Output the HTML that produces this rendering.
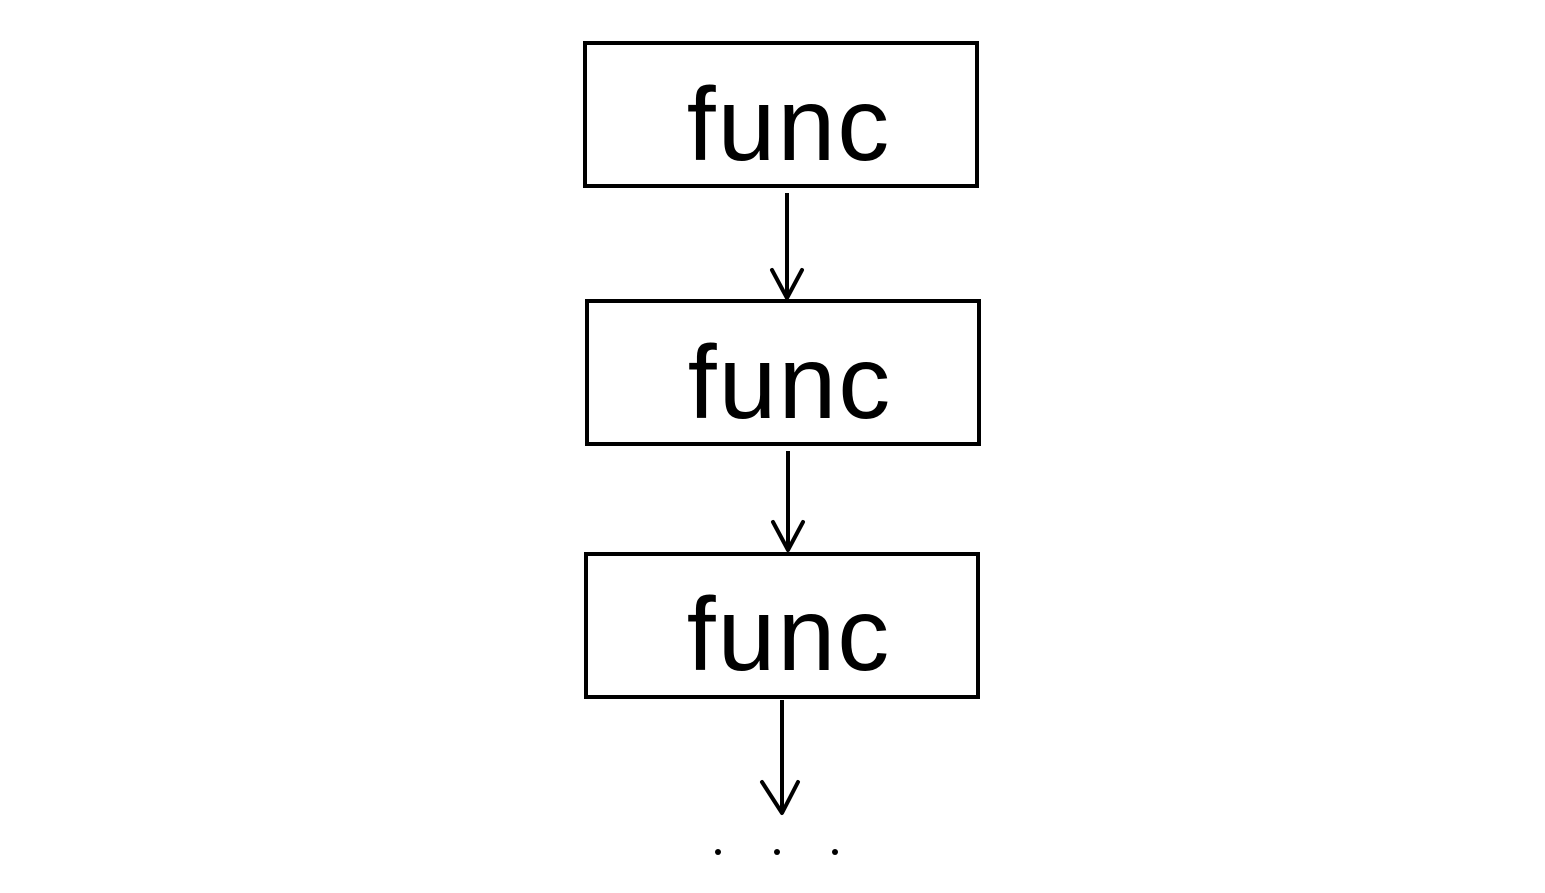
<!DOCTYPE html>
<html>
<head>
<meta charset="utf-8">
<style>
html,body{margin:0;padding:0;background:#fff;}
svg{display:block;}
text{font-family:"Liberation Sans",sans-serif;}
</style>
</head>
<body>
<svg width="1545" height="893" viewBox="0 0 1545 893">
  <g>
    <rect x="585" y="43" width="392" height="143" fill="none" stroke="#000" stroke-width="4"/>
    <text x="789" y="160" font-size="104" text-anchor="middle" letter-spacing="2">func</text>
  </g>
  <g>
    <line x1="787" y1="193" x2="787" y2="298" stroke="#000" stroke-width="4"/>
    <polyline points="772,270 787,298 802,270" fill="none" stroke="#000" stroke-width="4" stroke-linejoin="round" stroke-linecap="round"/>
  </g>
  <g>
    <rect x="587" y="301" width="392" height="143" fill="none" stroke="#000" stroke-width="4"/>
    <text x="790" y="418" font-size="104" text-anchor="middle" letter-spacing="2">func</text>
  </g>
  <g>
    <line x1="788" y1="451" x2="788" y2="550" stroke="#000" stroke-width="4"/>
    <polyline points="773,522 788,550 803,522" fill="none" stroke="#000" stroke-width="4" stroke-linejoin="round" stroke-linecap="round"/>
  </g>
  <g>
    <rect x="586" y="554" width="392" height="143" fill="none" stroke="#000" stroke-width="4"/>
    <text x="789" y="670" font-size="104" text-anchor="middle" letter-spacing="2">func</text>
  </g>
  <g>
    <line x1="782" y1="700" x2="782" y2="813" stroke="#000" stroke-width="4"/>
    <polyline points="762,782 782,813 798,782" fill="none" stroke="#000" stroke-width="4" stroke-linejoin="round" stroke-linecap="round"/>
  </g>
  <g>
    <circle cx="718" cy="852" r="3" fill="#000"/>
    <circle cx="777" cy="852" r="3" fill="#000"/>
    <circle cx="835" cy="852" r="3" fill="#000"/>
  </g>
</svg>
</body>
</html>
